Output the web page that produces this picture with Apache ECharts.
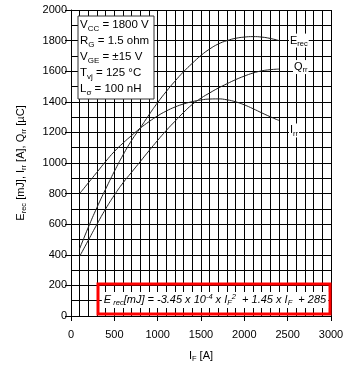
<!DOCTYPE html>
<html>
<head>
<meta charset="utf-8">
<script src="https://cdn.jsdelivr.net/npm/echarts@6/dist/echarts.min.js"></script>
<style>
html,body{margin:0;padding:0;background:#fff;}
#c{width:352px;height:370px;}
</style>
</head>
<body>
<div id="c"></div>
<script>
// Forward current I_F [A]
const current = [100,200,300,400,500,600,700,800,900,1000,1100,1200,1300,1400,1500,1600,1700,1800,1900,2000,2100,2200,2300,2400];
// E_rec [mJ]
const erec = [440,580,710,830,945,1052,1148,1230,1315,1395,1468,1535,1597,1652,1703,1745,1778,1800,1815,1823,1826,1823,1814,1800];
// Q_rr [µC]
const qrr = [390,495,600,700,790,870,940,1010,1080,1148,1213,1273,1331,1383,1424,1458,1490,1518,1545,1568,1588,1602,1610,1614];
// I_rr [A]
const irr = [800,870,940,1010,1075,1130,1180,1228,1270,1308,1340,1366,1386,1401,1412,1418,1419,1413,1400,1380,1355,1328,1302,1278];

const xTicks = [0,500,1000,1500,2000,2500,3000];
const yTicks = [0,200,400,600,800,1000,1200,1400,1600,1800,2000];

const FONT = '"Liberation Sans", Arial, sans-serif';
const chart = echarts.init(document.getElementById('c'), null, {renderer:'canvas'});

function pairs(ys){ return current.map((x,i)=>[x, ys[i]]); }

const subRich = {
  m:{fontSize:11, fontFamily:FONT, color:'#000', lineHeight:14},
  s:{fontSize:7.5, fontFamily:FONT, color:'#000', lineHeight:9, verticalAlign:'bottom'}
};

function lineSeries(name, ys, labelText, offset){
  return {
    name, type:'line', data:pairs(ys), smooth:true, symbol:'none',
    lineStyle:{color:'#222', width:1},
    endLabel:{show:true, formatter:labelText, offset:offset, backgroundColor:'#fff', padding:[0,1,0,1], rich:subRich},
    z:3
  };
}

const option = {
  animation:false,
  backgroundColor:'#fff',
  grid:{left:71, right:21, top:10, bottom:54},
  xAxis:{
    type:'value', min:xTicks[0], max:xTicks[xTicks.length-1], interval:500,
    name:'{m|I}{s|F}{m| [A]}', nameLocation:'middle', nameGap:33,
    nameTextStyle:{rich:subRich},
    axisLine:{show:true, onZero:false, lineStyle:{color:'#000', width:1}},
    axisTick:{show:true, length:5, lineStyle:{color:'#000'}},
    axisLabel:{fontSize:11, fontFamily:FONT, color:'#000', margin:13, formatter:(v)=>String(v)},
    splitLine:{show:true, lineStyle:{color:'#000', width:1}},
    minorTick:{show:false, splitNumber:5},
    minorSplitLine:{show:true, lineStyle:{color:'#000', width:1}}
  },
  yAxis:{
    type:'value', min:yTicks[0], max:yTicks[yTicks.length-1], interval:200,
    name:'{m|E}{s|rec}{m| [mJ], I}{s|rr}{m| [A], Q}{s|rr}{m| [µC]}',
    nameLocation:'middle', nameGap:43, nameRotate:90,
    nameTextStyle:{rich:subRich},
    axisLine:{show:true, onZero:false, lineStyle:{color:'#000', width:1}},
    axisTick:{show:true, length:6, lineStyle:{color:'#000'}},
    axisLabel:{fontSize:11, fontFamily:FONT, color:'#000', margin:4, formatter:(v)=>String(v)},
    splitLine:{show:true, lineStyle:{color:'#000', width:1}},
    minorTick:{show:false, splitNumber:2},
    minorSplitLine:{show:true, lineStyle:{color:'#000', width:1}}
  },
  series:[
    lineSeries('Erec', erec, '{m|E}{s|rec}', [2,0]),
    lineSeries('Qrr', qrr, '{m|Q}{s|rr}', [6,-2]),
    lineSeries('Irr', irr, '{m|I}{s|rr}', [2,10])
  ],
  graphic:[
    {type:'rect', z:100, shape:{x:78,y:16,width:76,height:83}, style:{fill:'#fff', stroke:'#333', lineWidth:1}},
    {type:'text', z:101, x:80, y:17, style:{
      text:'{m|V}{s|CC}{m| = 1800 V}\n{m|R}{s|G}{m| = 1.5 ohm}\n{m|V}{s|GE}{m| = ±15 V}\n{m|T}{s|vj}{m| = 125 °C}\n{m|L}{s|σ}{m| = 100 nH}',
      rich:{
        m:{fontSize:11.5, fontFamily:FONT, fill:'#000', lineHeight:16},
        s:{fontSize:8, fontFamily:FONT, fill:'#000', lineHeight:10, verticalAlign:'bottom'}
      }
    }},
    {type:'rect', z:100, shape:{x:98,y:284,width:232,height:30}, style:{fill:null, stroke:'#ff0000', lineWidth:3}},
    {type:'text', z:101, x:215, y:300, style:{
      text:'{m|E}{s| rec}{m|[mJ] = -3.45 x 10}{p|-4}{m| x I}{s|F}{p|2}{m|  + 1.45 x I}{s|F}{m|  + 285}',
      align:'center', verticalAlign:'middle',
      backgroundColor:'#fff', padding:[1,2,1,2],
      rich:{
        m:{fontSize:11, fontStyle:'italic', fontFamily:FONT, fill:'#000', lineHeight:14},
        s:{fontSize:7.5, fontStyle:'italic', fontFamily:FONT, fill:'#000', lineHeight:9, verticalAlign:'bottom'},
        p:{fontSize:7.5, fontStyle:'italic', fontFamily:FONT, fill:'#000', lineHeight:9, verticalAlign:'top'}
      }
    }}
  ]
};
chart.setOption(option);
</script>
</body>
</html>
